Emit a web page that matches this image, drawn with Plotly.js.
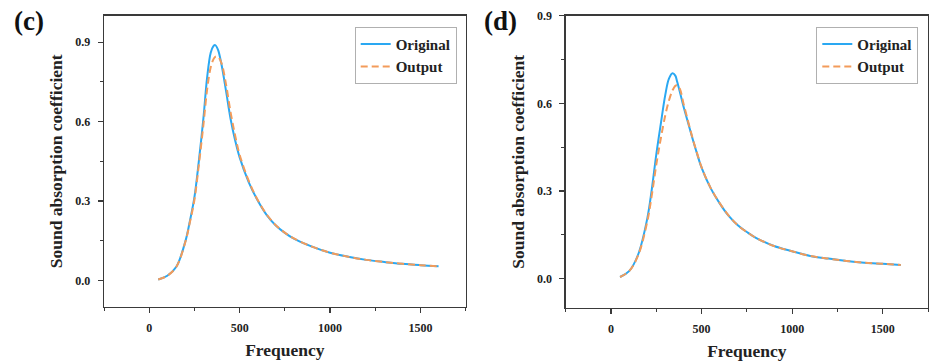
<!DOCTYPE html>
<html>
<head>
<meta charset="utf-8">
<script src="https://cdn.plot.ly/plotly-3.0.1.min.js"></script>
<style>
  html, body { margin: 0; padding: 0; background: #fff; }
  #chart { width: 934px; height: 362px; }
</style>
</head>
<body>
<div id="chart"></div>
<script>
// ---- Data ----
const freq = [50, 100, 150, 200, 225, 250, 275, 300, 320, 340, 355, 365, 380, 400, 425, 450, 475, 500, 550, 600, 650, 700, 750, 800, 900, 1000, 1100, 1200, 1300, 1400, 1500, 1600];

// Panel (c)
const cOriginal = [0.004, 0.018, 0.052, 0.148, 0.225, 0.315, 0.455, 0.615, 0.765, 0.860, 0.885, 0.889, 0.872, 0.815, 0.715, 0.610, 0.530, 0.465, 0.372, 0.302, 0.247, 0.208, 0.180, 0.158, 0.128, 0.105, 0.090, 0.078, 0.070, 0.063, 0.058, 0.054];
const cOutput   = [0.004, 0.018, 0.052, 0.146, 0.220, 0.305, 0.440, 0.590, 0.720, 0.805, 0.835, 0.845, 0.845, 0.820, 0.740, 0.635, 0.548, 0.475, 0.377, 0.304, 0.249, 0.209, 0.181, 0.159, 0.128, 0.105, 0.090, 0.078, 0.070, 0.063, 0.058, 0.054];

// Panel (d)
const dOriginal = [0.006, 0.026, 0.083, 0.205, 0.305, 0.425, 0.530, 0.630, 0.685, 0.703, 0.695, 0.675, 0.640, 0.590, 0.535, 0.480, 0.428, 0.380, 0.310, 0.258, 0.215, 0.183, 0.160, 0.140, 0.112, 0.094, 0.078, 0.069, 0.061, 0.055, 0.051, 0.047];
const dOutput   = [0.006, 0.026, 0.080, 0.195, 0.285, 0.390, 0.480, 0.560, 0.610, 0.645, 0.660, 0.662, 0.650, 0.600, 0.540, 0.482, 0.430, 0.382, 0.311, 0.259, 0.216, 0.183, 0.160, 0.140, 0.112, 0.094, 0.078, 0.069, 0.061, 0.055, 0.051, 0.047];

const seriesNames = ["Original", "Output"];
const panelLabels = ["(c)", "(d)"];
const xTitle = "Frequency";
const yTitle = "Sound absorption coefficient";
const xTicks = [0, 500, 1000, 1500];

// ---- Styles ----
const FONT = "Liberation Serif, Times New Roman, Times, serif";
const BLUE = "#2AA8F2";
const ORANGE = "#F39B5A";
const AXIS = "#3a3a3a";

const traces = [
  {x: freq, y: cOriginal, name: seriesNames[0], mode: "lines", xaxis: "x", yaxis: "y", legend: "legend",
   line: {color: BLUE, width: 2, shape: "spline", smoothing: 1}},
  {x: freq, y: cOutput, name: seriesNames[1], mode: "lines", xaxis: "x", yaxis: "y", legend: "legend",
   line: {color: ORANGE, width: 2, dash: "7px,4px", shape: "spline", smoothing: 1}},
  {x: freq, y: dOriginal, name: seriesNames[0], mode: "lines", xaxis: "x2", yaxis: "y2", legend: "legend2",
   line: {color: BLUE, width: 2, shape: "spline", smoothing: 1}},
  {x: freq, y: dOutput, name: seriesNames[1], mode: "lines", xaxis: "x2", yaxis: "y2", legend: "legend2",
   line: {color: ORANGE, width: 2, dash: "7px,4px", shape: "spline", smoothing: 1}}
];

const tickFont = {family: FONT, size: 12, color: "#222", weight: "bold"};
const titleFont = {family: FONT, size: 17.5, color: "#222", weight: "bold"};

function xAxis(domain, anchor) {
  return {
    domain: domain, anchor: anchor, range: [-250, 1750],
    tickmode: "array", tickvals: xTicks,
    ticks: "outside", ticklen: 5, tickwidth: 1.2, tickcolor: AXIS,
    minor: {dtick: 250, tick0: 0, ticks: "outside", ticklen: 3, tickwidth: 1, tickcolor: AXIS},
    showline: true, linecolor: AXIS, linewidth: 1.3, mirror: true,
    showgrid: false, zeroline: false,
    tickfont: tickFont, ticklabelstandoff: 4,
    title: {text: xTitle, font: titleFont, standoff: 10}
  };
}
function yAxis(domain, anchor, range) {
  return {
    domain: domain, anchor: anchor, range: range,
    tick0: 0, dtick: 0.3, tickformat: ".1f",
    ticks: "outside", ticklen: 5, tickwidth: 1.2, tickcolor: AXIS,
    minor: {dtick: 0.15, tick0: 0, ticks: "outside", ticklen: 3, tickwidth: 1, tickcolor: AXIS},
    showline: true, linecolor: AXIS, linewidth: 1.3, mirror: true,
    showgrid: false, zeroline: false,
    tickfont: tickFont, ticklabelstandoff: 5,
    title: {text: yTitle, font: titleFont, standoff: 8}
  };
}

const legendStyle = (xr) => ({
  x: xr, y: 0.926, xanchor: "right", yanchor: "top",
  bgcolor: "rgba(255,255,255,1)", bordercolor: "#b0b0b0", borderwidth: 1,
  font: {family: FONT, size: 15, color: "#222", weight: "bold"},
  tracegroupgap: 0
});

const layout = {
  width: 934, height: 362,
  margin: {l: 0, r: 0, t: 0, b: 0},
  paper_bgcolor: "#fff", plot_bgcolor: "#fff",
  showlegend: true,
  xaxis: xAxis([104/934, 465.7/934], "y"),
  yaxis: yAxis([0.1519, 0.9566], "x", [-0.1, 1.0]),
  xaxis2: xAxis([565.7/934, 928/934], "y2"),
  yaxis2: yAxis([0.1492, 0.9566], "x2", [-0.1, 0.9]),
  legend: legendStyle(456.7/934),
  legend2: legendStyle(918.3/934),
  annotations: [
    {text: panelLabels[0], xref: "paper", yref: "paper", x: 28.7/934, y: 1 - 21/362,
     xanchor: "center", yanchor: "middle", showarrow: false,
     font: {family: FONT, size: 27, color: "#111", weight: "bold"}},
    {text: panelLabels[1], xref: "paper", yref: "paper", x: 500/934, y: 1 - 21/362,
     xanchor: "center", yanchor: "middle", showarrow: false,
     font: {family: FONT, size: 27, color: "#111", weight: "bold"}}
  ]
};

Plotly.newPlot("chart", traces, layout, {staticPlot: true, displayModeBar: false});
</script>
</body>
</html>
